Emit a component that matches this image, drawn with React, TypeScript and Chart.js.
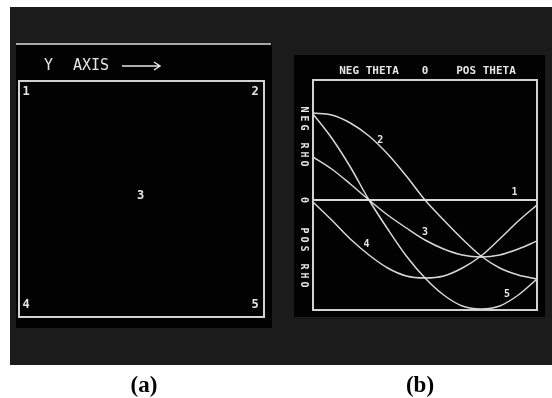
import React, { useEffect, useRef } from "react";
import { Chart, registerables } from "chart.js";

Chart.register(...registerables);

const W = 552;
const H = 398;

// ---- Panel (a): five image points (Y axis horizontal, X axis downward)
const pointLabels = ["1", "2", "3", "4", "5"];
const pointYAxis = [0, 1, 0.5, 0, 1];
const pointXAxis = [0, 0, 0.5, 1, 1];

// ---- Panel (b): Hough curves, rho against theta (degrees)
const theta = [-90, -75, -60, -45, -30, -15, 0, 15, 30, 45, 60, 75, 90];
const rho1 = [0, 0, 0, 0, 0, 0, 0, 0, 0, 0, 0, 0, 0];
const rho2 = [-87, -85, -77, -64, -46, -24, 0, 20, 39, 56, 68, 75, 79];
const rho3 = [-43, -31, -16, 0, 15, 28, 40, 49, 55, 57, 55, 49, 41];
const rho4 = [2, 20, 39, 55, 68, 76, 78, 76, 68, 56, 39, 21, 5];
const rho5 = [-86, -62, -33, 0, 29, 56, 78, 95, 106, 109, 106, 95, 79];
const curveNames = ["1", "2", "3", "4", "5"];
const labelTheta = [72, -36, 0, -47, 66];
const labelRho = [-8, -60, 32, 44, 94];

const MONO = '"DejaVu Sans Mono", monospace';
const LINE = "rgba(228,228,228,0.95)";
const FRAME = "#d2d2d2";
const TEXT = "#e6e6e6";

const panelA = {
  id: "panelA",
  beforeDraw(chart: any) {
    const ctx = chart.ctx;
    ctx.save();
    ctx.fillStyle = "#1b1b1b";
    ctx.fillRect(10, 7, W - 10, 358);
    ctx.fillStyle = "#020202";
    ctx.fillRect(16, 43, 256, 285);
    ctx.strokeStyle = "#a8a8a8";
    ctx.lineWidth = 2;
    ctx.beginPath();
    ctx.moveTo(16, 44);
    ctx.lineTo(271, 44);
    ctx.stroke();
    ctx.restore();
  },
  afterDraw(chart: any) {
    const ctx = chart.ctx;
    const ca = chart.chartArea;
    const xs = chart.scales.x;
    const ys = chart.scales.y;
    ctx.save();
    ctx.strokeStyle = FRAME;
    ctx.lineWidth = 2;
    ctx.strokeRect(ca.left, ca.top, ca.right - ca.left, ca.bottom - ca.top);

    ctx.fillStyle = TEXT;
    ctx.font = `15px ${MONO}`;
    ctx.textBaseline = "middle";
    ctx.textAlign = "left";
    ctx.fillText("Y", 44, 66);
    ctx.fillText("AXIS", 73, 66);
    ctx.strokeStyle = TEXT;
    ctx.lineWidth = 1.5;
    ctx.beginPath();
    ctx.moveTo(122, 66);
    ctx.lineTo(160, 66);
    ctx.moveTo(154, 62);
    ctx.lineTo(160, 66);
    ctx.lineTo(154, 70);
    ctx.stroke();

    ctx.font = `bold 12px ${MONO}`;
    ctx.textAlign = "center";
    pointLabels.forEach((lab, i) => {
      const hx = pointYAxis[i];
      const vy = pointXAxis[i];
      const dx = hx === 0 ? 7 : hx === 1 ? -9 : -1;
      const dy = vy === 0 ? 11 : vy === 1 ? -12 : -3;
      ctx.fillText(lab, xs.getPixelForValue(hx) + dx, ys.getPixelForValue(vy) + dy);
    });

    ctx.fillStyle = "#000";
    ctx.font = 'bold 23px "Liberation Serif", serif';
    ctx.textBaseline = "alphabetic";
    ctx.fillText("(a)", 144, 392);
    ctx.restore();
  },
};

const panelB = {
  id: "panelB",
  beforeDraw(chart: any) {
    const ctx = chart.ctx;
    ctx.save();
    ctx.fillStyle = "#020202";
    ctx.fillRect(294, 55, 251, 262);
    ctx.restore();
  },
  afterDraw(chart: any) {
    const ctx = chart.ctx;
    const ca = chart.chartArea;
    const xs = chart.scales.x;
    const ys = chart.scales.y;
    ctx.save();
    ctx.strokeStyle = FRAME;
    ctx.lineWidth = 2;
    ctx.strokeRect(ca.left, ca.top, ca.right - ca.left, ca.bottom - ca.top);

    ctx.fillStyle = TEXT;
    ctx.font = `bold 11px ${MONO}`;
    ctx.textAlign = "center";
    ctx.textBaseline = "middle";
    const x0 = xs.getPixelForValue(0);
    ctx.fillText("NEG THETA", 369, 71);
    ctx.fillText("0", x0, 71);
    ctx.fillText("POS THETA", 486, 71);

    // vertical rho labels
    const y0 = ys.getPixelForValue(0);
    const vText = (s: string, cx: number, cy: number) => {
      ctx.save();
      ctx.translate(cx, cy);
      ctx.rotate(Math.PI / 2);
      ctx.fillText(s, 0, 0);
      ctx.restore();
    };
    ctx.font = `bold 10px ${MONO}`;
    (ctx as any).letterSpacing = "3px";
    vText("NEG RHO", 304, 138);
    vText("POS RHO", 304, 259);
    (ctx as any).letterSpacing = "0px";
    vText("0", 304, y0);

    ctx.font = `bold 10px ${MONO}`;
    curveNames.forEach((n, i) => {
      ctx.fillText(n, xs.getPixelForValue(labelTheta[i]), ys.getPixelForValue(labelRho[i]));
    });

    ctx.fillStyle = "#000";
    ctx.font = 'bold 23px "Liberation Serif", serif';
    ctx.textBaseline = "alphabetic";
    ctx.fillText("(b)", 420, 392);
    ctx.restore();
  },
};

export default function App() {
  const refA = useRef<HTMLCanvasElement | null>(null);
  const refB = useRef<HTMLCanvasElement | null>(null);

  useEffect(() => {
    const chartA = new Chart(refA.current as HTMLCanvasElement, {
      type: "scatter",
      data: {
        datasets: [
          {
            data: pointYAxis.map((v, i) => ({ x: v, y: pointXAxis[i] })),
            pointRadius: 0,
            showLine: false,
          },
        ],
      },
      options: {
        responsive: false,
        animation: false,
        layout: { padding: { left: 19, top: 81, right: W - 264, bottom: H - 317 } },
        plugins: { legend: { display: false }, tooltip: { enabled: false } },
        scales: {
          x: { type: "linear", min: 0, max: 1, display: false },
          y: { type: "linear", min: 0, max: 1, reverse: true, display: false },
        },
      },
      plugins: [panelA],
    } as any);

    const series = [rho1, rho2, rho3, rho4, rho5];
    const chartB = new Chart(refB.current as HTMLCanvasElement, {
      type: "line",
      data: {
        datasets: series.map((r, k) => ({
          label: curveNames[k],
          data: theta.map((t, i) => ({ x: t, y: r[i] })),
          borderColor: LINE,
          borderWidth: k === 0 ? 2 : 1.5,
          pointRadius: 0,
          fill: false,
          cubicInterpolationMode: "monotone",
        })),
      },
      options: {
        responsive: false,
        animation: false,
        layout: { padding: { left: 313, top: 80, right: W - 537, bottom: H - 310 } },
        plugins: { legend: { display: false }, tooltip: { enabled: false } },
        scales: {
          x: { type: "linear", min: -90, max: 90, display: false },
          y: { type: "linear", min: -120, max: 110, reverse: true, display: false },
        },
      },
      plugins: [panelB],
    } as any);

    return () => {
      chartA.destroy();
      chartB.destroy();
    };
  }, []);

  const canvasStyle: React.CSSProperties = {
    position: "absolute",
    left: 0,
    top: 0,
    width: W,
    height: H,
  };

  return (
    <div
      style={{
        position: "fixed",
        left: 0,
        top: 0,
        width: W,
        height: H,
        background: "#fff",
        overflow: "hidden",
      }}
    >
      <canvas ref={refA} width={W} height={H} style={canvasStyle} />
      <canvas ref={refB} width={W} height={H} style={canvasStyle} />
    </div>
  );
}
